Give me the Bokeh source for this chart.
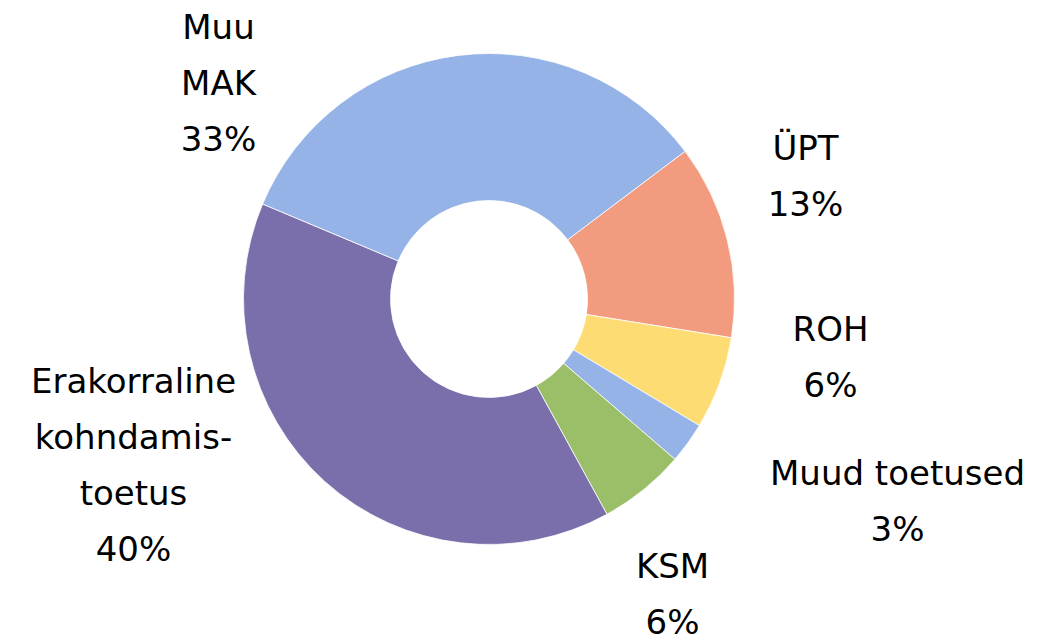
import math
from bokeh.plotting import figure
from bokeh.models import Range1d, ColumnDataSource
from bokeh.core.properties import value
from bokeh.embed import file_html
from bokeh.resources import INLINE

# ---- data (clockwise, starting at the ÜPT slice) ----
categories = ["ÜPT", "ROH", "Muud toetused", "KSM", "Erakorraline kohndamistoetus", "Muu MAK"]
shares = [12.8, 6.1, 2.7, 5.7, 39.3, 33.4]
pct_labels = ["13%", "6%", "3%", "6%", "40%", "33%"]
name_lines = [["ÜPT"], ["ROH"], ["Muud toetused"], ["KSM"],
              ["Erakorraline", "kohndamis-", "toetus"], ["Muu", "MAK"]]

# ---- style / layout ----
colors = ["#F29B7E", "#FEDC74", "#95B3E6", "#9BBF69", "#7A6FAA", "#95B3E6"]
W, H = 1054, 641
first_angle = 53.0          # degrees clockwise from 12 o'clock
cpx, cpy = 488.5, 298.5     # centre in page pixels
r_out, r_in = 245.5, 98.5
# label anchor: x centre and baseline of first line (in page pixels)
label_pos = [(805, 162), (830, 343), (897, 487), (672, 580), (133, 395), (218, 41)]
line_gap = 56
baseline_fix = -15
font = "DejaVu Sans"
fsize = "34px"

p = figure(width=W, height=H, output_backend="svg", toolbar_location=None,
           x_range=Range1d(0, W), y_range=Range1d(0, H), min_border=0)
p.axis.visible = False
p.grid.visible = False
p.outline_line_color = None
p.background_fill_color = "white"

total = sum(shares)
starts, ends = [], []
acc = first_angle
for s in shares:
    a0 = acc
    a1 = acc + 360.0 * s / total
    # bokeh: counter-clockwise from +x ; convert clockwise-from-top
    starts.append(math.radians(90 - a1))
    ends.append(math.radians(90 - a0))
    acc = a1

src = ColumnDataSource(dict(start=starts, end=ends, color=colors, cat=categories))
p.annular_wedge(x=cpx, y=H - cpy, inner_radius=r_in, outer_radius=r_out,
                start_angle="start", end_angle="end", fill_color="color",
                line_color="white", line_width=0.8, source=src)

tx, ty, tt = [], [], []
for (px, py), lines, pct in zip(label_pos, name_lines, pct_labels):
    for i, ln in enumerate(lines + [pct]):
        tx.append(px)
        ty.append(H - (py + i * line_gap + baseline_fix))
        tt.append(ln)
p.text(x=tx, y=ty, text=tt, text_font=value(font), text_font_size=fsize,
       text_align="center", text_baseline="alphabetic", text_color="#000000")

open("out.html", "w").write(file_html(p, INLINE))
